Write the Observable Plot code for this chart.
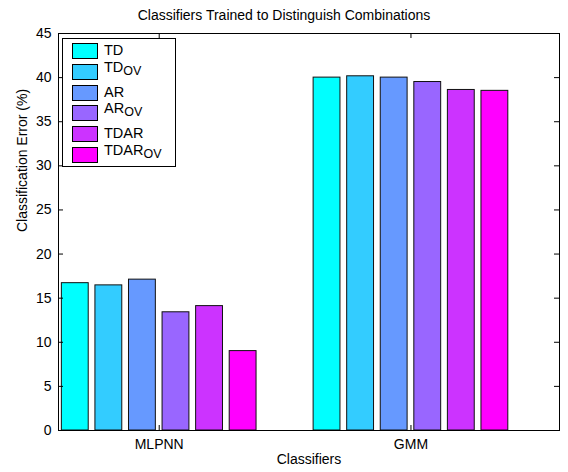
<!DOCTYPE html>
<html>
<head>
<meta charset="utf-8">
<script src="https://cdn.jsdelivr.net/npm/d3@7"></script>
<script src="https://cdn.jsdelivr.net/npm/@observablehq/plot@0.6"></script>
<style>
  body { margin: 0; background: #fff; font-family: "Liberation Sans", Arial, Helvetica, sans-serif; }
  #wrap { position: relative; width: 568px; height: 472px; overflow: hidden; }
  #title { height: 24px; box-sizing: border-box; padding-top: 6px; line-height: 18px; font-size: 14px; text-align: center; color: #000; }
  #legend { position: absolute; left: 62px; top: 38px; width: 114px; height: 129px; box-sizing: border-box; border: 1px solid #000; background: #fff; }
  .row { position: absolute; left: 9px; height: 16px; }
  .sw { position: absolute; left: 0; top: 0; width: 26px; height: 16px; box-sizing: border-box; border: 1px solid #000; }
  .lb { position: absolute; left: 32px; top: -1px; font-size: 14.5px; line-height: 16px; white-space: nowrap; color: #000; }
  .lb.s { top: -5px; }
  .lb sub { font-size: 12.5px; position: relative; top: 3px; vertical-align: baseline; }
</style>
</head>
<body>
<div id="wrap">
  <div id="title">Classifiers Trained to Distinguish Combinations</div>
  <div id="chart"></div>
  <div id="legend"></div>
</div>
<script>
// ---- data ----
const classifiers = ["MLPNN", "GMM"];
const series = ["TD", "TD_OV", "AR", "AR_OV", "TDAR", "TDAR_OV"];
const mlpnnValues = [16.7, 16.45, 17.1, 13.4, 14.1, 9.0];
const gmmValues = [40.0, 40.15, 40.0, 39.5, 38.6, 38.5];
const colors = ["#00FFFF", "#33CCFF", "#6699FF", "#9966FF", "#CC33FF", "#FF00FF"];
const yTicks = [0, 5, 10, 15, 20, 25, 30, 35, 40, 45];
const xLabel = "Classifiers";
const yLabel = "Classification Error (%)";

// ---- table ----
const valuesByClassifier = [mlpnnValues, gmmValues];
const data = [];
classifiers.forEach((c, gi) => {
  series.forEach((s, si) => {
    data.push({classifier: c, group: gi + 1, index: si, series: s, value: valuesByClassifier[gi][si]});
  });
});

// MATLAB grouped-bar geometry (in data units)
const n = series.length;
const pitch = 0.8 / n;
const barW = pitch * 0.8;
const center = d => d.group + (d.index - (n - 1) / 2) * pitch;

const W = 568, H = 448;
const mL = 58, mR = 9, mT = 9, mB = 42;
const plotW = W - mL - mR, plotH = H - mT - mB;
const tickLen = 5;

const chart = Plot.plot({
  width: W,
  height: H,
  marginLeft: mL,
  marginRight: mR,
  marginTop: mT,
  marginBottom: mB,
  style: {fontFamily: '"Liberation Sans", Arial, Helvetica, sans-serif', fontSize: "14px", color: "#000", background: "#fff"},
  x: {domain: [0.6, 2.59], label: null},
  y: {domain: [0, 45], label: null},
  color: {type: "ordinal", domain: series, range: colors},
  marks: [
    Plot.rectY(data, {
      x1: d => center(d) - barW / 2,
      x2: d => center(d) + barW / 2,
      y1: 0,
      y2: "value",
      fill: "series",
      stroke: "#111",
      strokeWidth: 1
    }),
    // inward ticks on all four sides
    Plot.tickY(yTicks, {y: d => d, insetRight: plotW - tickLen, stroke: "#000"}),
    Plot.tickY(yTicks, {y: d => d, insetLeft: plotW - tickLen, stroke: "#000"}),
    Plot.tickX([1, 2], {x: d => d, insetTop: plotH - tickLen, stroke: "#000"}),
    Plot.tickX([1, 2], {x: d => d, insetBottom: plotH - tickLen, stroke: "#000"}),
    Plot.axisY({ticks: yTicks, tickSize: 0, tickPadding: 7, fontSize: 14, label: null}),
    Plot.axisX({ticks: [1, 2], tickFormat: d => classifiers[d - 1], tickSize: 0, tickPadding: 9, fontSize: 14, label: null}),
    Plot.text([yLabel], {text: d => d, frameAnchor: "left", dx: -36, rotate: -90, fontSize: 14}),
    Plot.text([xLabel], {text: d => d, frameAnchor: "bottom", dy: 33, fontSize: 14}),
    Plot.frame({stroke: "#000", strokeWidth: 1})
  ]
});
document.getElementById("chart").appendChild(chart);

// ---- legend ----
const legend = document.getElementById("legend");
const rowTop0 = 4, rowStep = 20.8;
series.forEach((s, i) => {
  const [base, sub] = s.split("_");
  const row = document.createElement("div");
  row.className = "row";
  row.style.top = (rowTop0 + i * rowStep) + "px";
  const sw = document.createElement("div");
  sw.className = "sw";
  sw.style.background = colors[i];
  const lb = document.createElement("div");
  lb.className = "lb" + (sub ? " s" : "");
  lb.textContent = base;
  if (sub) {
    const sb = document.createElement("sub");
    sb.textContent = sub;
    lb.appendChild(sb);
  }
  row.appendChild(sw);
  row.appendChild(lb);
  legend.appendChild(row);
});
</script>
</body>
</html>
